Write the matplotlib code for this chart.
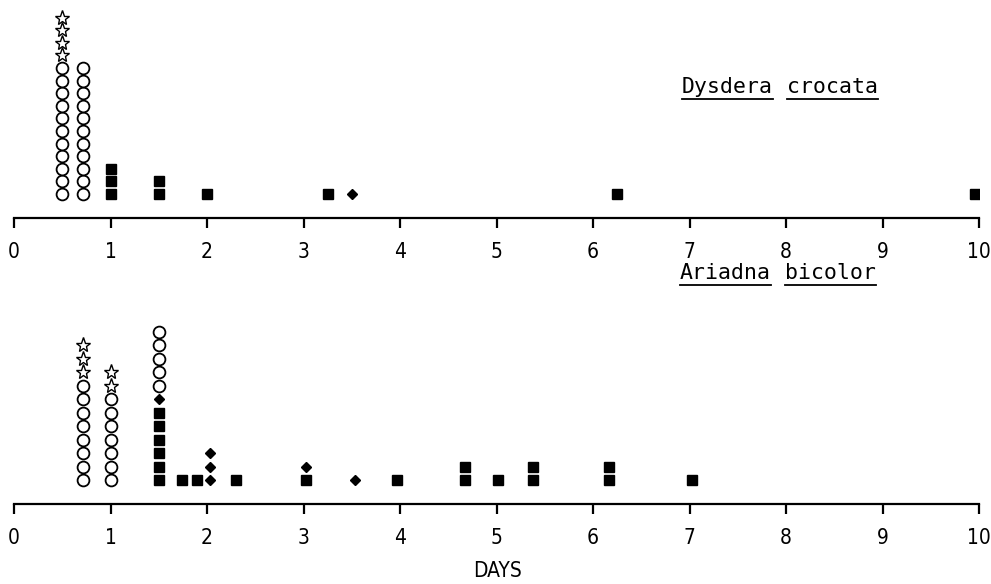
import matplotlib
matplotlib.use("Agg")
import matplotlib.pyplot as plt
from matplotlib.lines import Line2D

# Dysdera crocata (top panel): counts per day, stacked bottom -> top
dys_days = [0.5, 0.72, 1.0, 1.5, 2.0, 3.25, 3.5, 6.25, 9.96]
dys_square = [0, 0, 3, 2, 1, 1, 0, 1, 1]
dys_diamond = [0, 0, 0, 0, 0, 0, 1, 0, 0]
dys_circle = [11, 11, 0, 0, 0, 0, 0, 0, 0]
dys_star = [4, 0, 0, 0, 0, 0, 0, 0, 0]

# Ariadna bicolor (bottom panel)
ari_days = [0.72, 1.0, 1.5, 1.74, 1.9, 2.03, 2.3, 3.03, 3.53, 3.97, 4.67, 5.02, 5.38, 6.17, 7.03]
ari_square = [0, 0, 6, 1, 1, 0, 1, 1, 0, 1, 2, 1, 2, 2, 1]
ari_diamond = [0, 0, 1, 0, 0, 3, 0, 1, 1, 0, 0, 0, 0, 0, 0]
ari_circle = [8, 7, 5, 0, 0, 0, 0, 0, 0, 0, 0, 0, 0, 0, 0]
ari_star = [3, 2, 0, 0, 0, 0, 0, 0, 0, 0, 0, 0, 0, 0, 0]

xticks = list(range(0, 11))

# marker styles, in stacking order (bottom first)
styles = [
    dict(marker='s', ms=7.3, mfc='black', mec='black', mew=1),
    dict(marker='D', ms=5.5, mfc='black', mec='black', mew=1),
    dict(marker='o', ms=8.5, mfc='white', mec='black', mew=1.3),
    dict(marker='*', ms=11, mfc='white', mec='black', mew=1.0),
]

fig = plt.figure(figsize=(9.91, 5.84), dpi=100)
W, H = 991, 584


def panel(top_px, axis_px, spacing, days, counts):
    ax = fig.add_axes([14 / W, 1 - axis_px / H, 965 / W, (axis_px - top_px) / H])
    lo = -24 / spacing
    ax.set_ylim(lo, lo + (axis_px - top_px) / spacing)
    ax.set_xlim(0, 10)
    for i, d in enumerate(days):
        level = 0
        for st, cnt in zip(styles, counts):
            for k in range(cnt[i]):
                ax.plot([d], [level], ls='none', **st, zorder=3)
                level += 1
    for s in ['top', 'left', 'right']:
        ax.spines[s].set_visible(False)
    ax.spines['bottom'].set_linewidth(1.6)
    ax.set_yticks([])
    ax.set_xticks(xticks)
    ax.set_xticklabels([str(t) for t in xticks], fontsize=15,
                       fontfamily='DejaVu Sans', fontstretch='condensed')
    ax.tick_params(axis='x', direction='out', length=7, width=1.6, pad=10)
    ax.patch.set_alpha(0)
    return ax


ax1 = panel(5, 218, 12.6, dys_days, [dys_square, dys_diamond, dys_circle, dys_star])
ax2 = panel(290, 504, 13.5, ari_days, [ari_square, ari_diamond, ari_circle, ari_star])

fig.text(497 / W, 1 - 577 / H, 'DAYS', ha='center', va='baseline', fontsize=15,
         fontfamily='DejaVu Sans', fontstretch='condensed')


def species(words, x_px, base_px):
    x = x_px
    for w in words:
        t = fig.text(x / W, 1 - base_px / H, w, ha='left', va='baseline',
                     fontsize=15.5, fontfamily='DejaVu Sans Mono')
        fig.canvas.draw()
        bb = t.get_window_extent()
        y = 1 - (base_px + 6) / H
        fig.add_artist(Line2D([bb.x0 / W, bb.x1 / W], [y, y], color='black', lw=1.3))
        x = bb.x1 + 14


species(['Dysdera', 'crocata'], 682, 93)
species(['Ariadna', 'bicolor'], 680, 279)

fig.savefig('out.png', dpi=100, facecolor='white')
